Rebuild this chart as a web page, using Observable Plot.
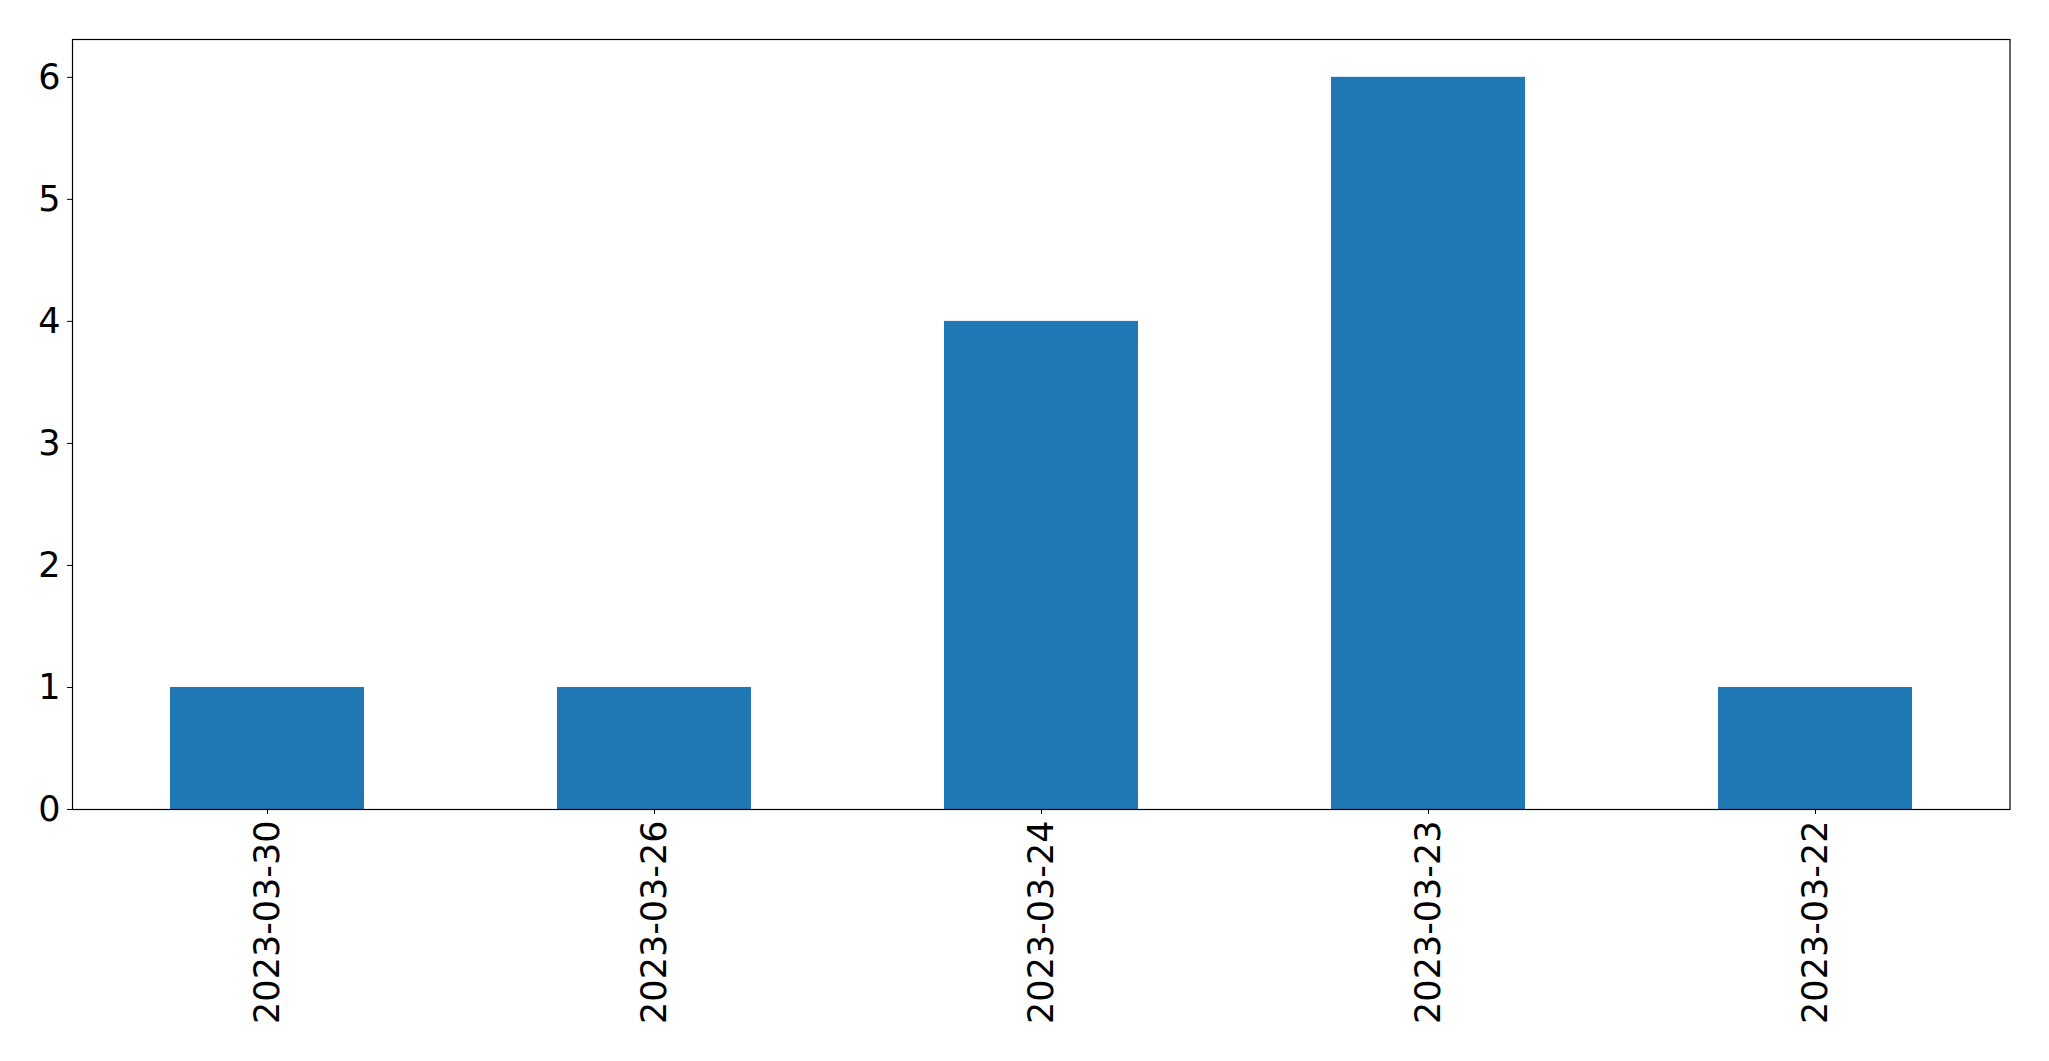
<!DOCTYPE html>
<html>
<head>
<meta charset="utf-8">
<script src="https://cdn.jsdelivr.net/npm/d3@7"></script>
<script src="https://cdn.jsdelivr.net/npm/@observablehq/plot@0.6"></script>
<style>
  html, body { margin: 0; padding: 0; background: #fff; }
  #chart svg { display: block; }
</style>
</head>
<body>
<div id="chart"></div>
<script>
const dates = ["2023-03-30", "2023-03-26", "2023-03-24", "2023-03-23", "2023-03-22"];
const counts = [1, 1, 4, 6, 1];
const yTicks = [0, 1, 2, 3, 4, 5, 6];

const data = dates.map((d, i) => ({date: d, count: counts[i]}));

const chart = Plot.plot({
  width: 2049,
  height: 1061,
  marginLeft: 72,
  marginRight: 39.5,
  marginTop: 39,
  marginBottom: 252,
  style: {fontFamily: "DejaVu Sans", fontSize: "35px", color: "#000", background: "#fff"},
  x: {domain: dates, paddingInner: 0.5, paddingOuter: 0.25, label: null},
  y: {domain: [0, 6.31], label: null},
  marks: [
    Plot.barY(data, {x: "date", y: "count", fill: "#1f77b4"}),
    Plot.axisY({ticks: yTicks, tickSize: 5, tickPadding: 7, tickFormat: d3.format("d"), fontSize: 35, label: null}),
    Plot.axisX({tickSize: 5, tickPadding: 6, tickRotate: -90, fontSize: 35, label: null}),
    Plot.frame({stroke: "#000", strokeWidth: 1.2})
  ]
});
document.getElementById("chart").appendChild(chart);
</script>
</body>
</html>
